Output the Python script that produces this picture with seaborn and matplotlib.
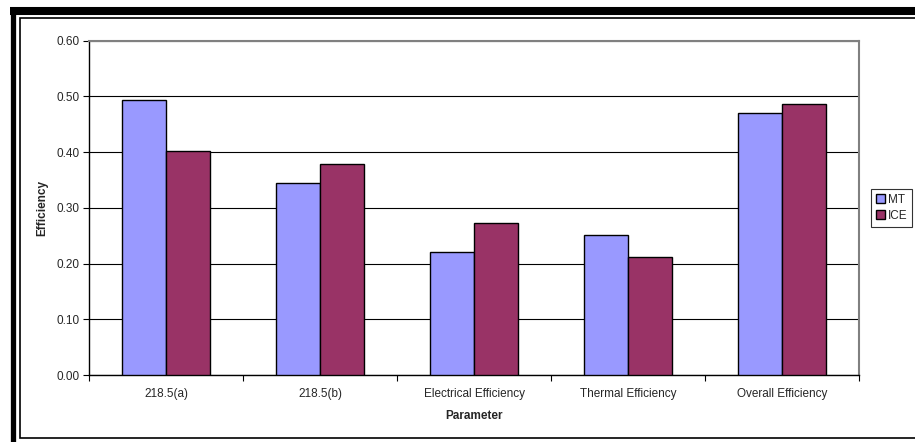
import matplotlib
matplotlib.use("Agg")
import matplotlib.pyplot as plt
import seaborn as sns
import pandas as pd
from matplotlib.lines import Line2D
from matplotlib.patches import Rectangle

categories = ["218.5(a)", "218.5(b)", "Electrical Efficiency", "Thermal Efficiency", "Overall Efficiency"]
series_names = ["MT", "ICE"]
mt_values = [0.494, 0.345, 0.220, 0.252, 0.471]
ice_values = [0.402, 0.379, 0.273, 0.212, 0.486]
y_ticks = [0.0, 0.1, 0.2, 0.3, 0.4, 0.5, 0.6]
colors = {"MT": "#9999FF", "ICE": "#993366"}

df = pd.DataFrame({
    "Parameter": categories * 2,
    "Series": ["MT"] * len(categories) + ["ICE"] * len(categories),
    "Efficiency": mt_values + ice_values,
})

sns.set_style("white")
plt.rcParams["font.family"] = ["Liberation Sans", "DejaVu Sans"]

W, H = 915, 442
fig = plt.figure(figsize=(W / 100, H / 100), dpi=100)
ax = fig.add_axes([89 / W, 1 - 375 / H, (859 - 89) / W, (375 - 40.7) / H])

sns.barplot(data=df, x="Parameter", y="Efficiency", hue="Series", hue_order=series_names,
            palette=colors, width=88 / 154, gap=0, edgecolor="black", linewidth=1.0,
            saturation=1, ax=ax, legend=False, zorder=3)

ax.set_ylim(0, 0.6)
ax.set_xlim(-0.5, len(categories) - 0.5)
ax.set_yticks(y_ticks)
ax.set_yticklabels([f"{v:.2f}" for v in y_ticks], fontsize=8.5)
ax.yaxis.grid(True, color="black", linewidth=0.8, zorder=0)
ax.set_axisbelow(True)
ax.tick_params(axis="y", direction="out", length=4, width=0.8, color="black", pad=3, left=True)
ax.tick_params(axis="x", bottom=False, labelsize=8.5, pad=6)
ax.set_xticks([i - 0.5 for i in range(len(categories) + 1)], minor=True)
ax.tick_params(axis="x", which="minor", bottom=True, direction="out", length=4, width=0.8, color="black")

for s in ["left", "bottom"]:
    ax.spines[s].set_color("black")
    ax.spines[s].set_linewidth(1.0)
for s in ["right", "top"]:
    ax.spines[s].set_visible(True)
    ax.spines[s].set_color("#808080")
    ax.spines[s].set_linewidth(1.5)

ax.set_xlabel("Parameter", fontsize=8.5, fontweight="bold", labelpad=7)
ax.set_ylabel("Efficiency", fontsize=8.5, fontweight="bold", labelpad=6)

handles = [Rectangle((0, 0), 1, 1, facecolor=colors[n], edgecolor="black", linewidth=1.0) for n in series_names]
leg = fig.legend(handles, series_names, loc="upper left",
                 bbox_to_anchor=(871 / W, 1 - 189 / H), fontsize=8.5, frameon=True,
                 fancybox=False, edgecolor="black", handlelength=0.8, handleheight=0.8,
                 handletextpad=0.2, borderpad=0.4, labelspacing=0.35, borderaxespad=0)
leg.get_frame().set_linewidth(0.8)

# outer frame
fig.add_artist(Line2D([12.5 / W, 12.5 / W], [0, 1 - 7 / H], transform=fig.transFigure, color="black",
                      linewidth=3.8, solid_capstyle="butt"))
fig.add_artist(Line2D([10 / W, 1], [1 - 11 / H, 1 - 11 / H], transform=fig.transFigure, color="black",
                      linewidth=5.8, solid_capstyle="butt"))
fig.add_artist(Rectangle((20 / W, 1 - 438 / H), (916 - 20) / W, (438 - 18) / H, transform=fig.transFigure,
                         fill=False, edgecolor="black", linewidth=1.2))

fig.savefig("out.png", dpi=100)
